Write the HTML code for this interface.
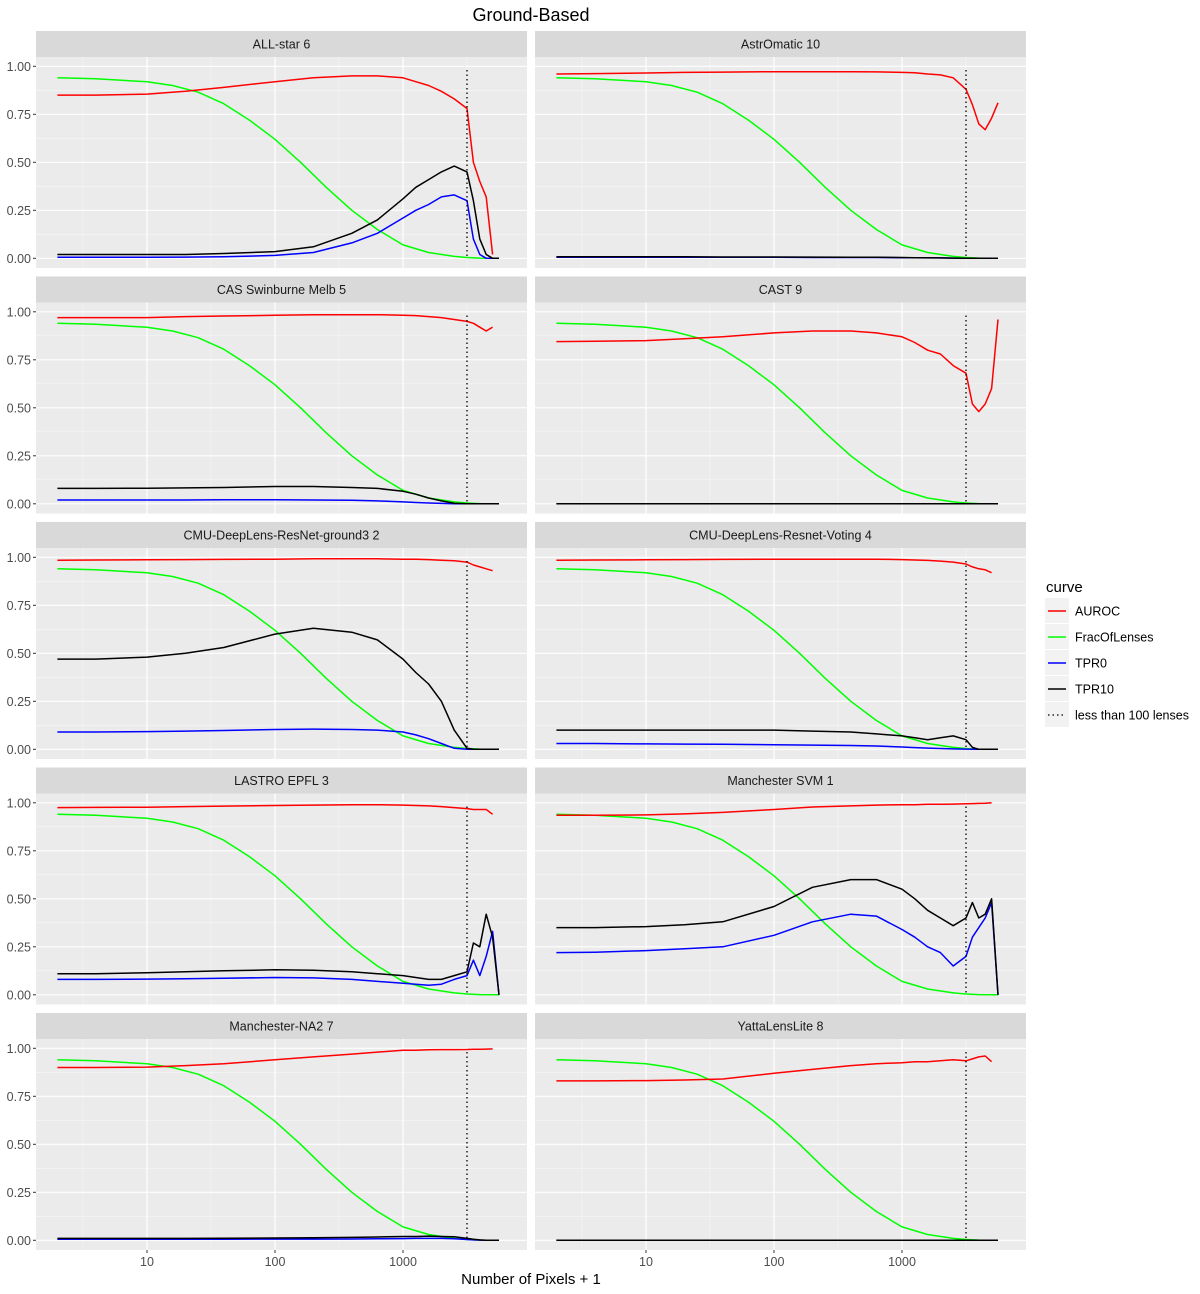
<!DOCTYPE html>
<html><head><meta charset="utf-8"><style>
body{margin:0;background:#fff;}
svg text{font-family:"Liberation Sans",Arial,sans-serif;}
</style></head><body>
<svg id="chart" width="1200" height="1289" xmlns="http://www.w3.org/2000/svg">
<text x="531" y="21" font-size="18" text-anchor="middle">Ground-Based</text>
<text x="531" y="1284" font-size="15" text-anchor="middle">Number of Pixels + 1</text>
<g>
<text x="1046" y="592" font-size="15">curve</text>
<g><rect x="1045" y="598" width="24" height="25" fill="#f2f2f2"/><line x1="1048" x2="1066" y1="611" y2="611" stroke="#f00" stroke-width="1.5"/><text x="1075" y="615.5" font-size="12.5">AUROC</text></g>
<g><rect x="1045" y="624" width="24" height="25" fill="#f2f2f2"/><line x1="1048" x2="1066" y1="637" y2="637" stroke="#0f0" stroke-width="1.5"/><text x="1075" y="641.5" font-size="12.5">FracOfLenses</text></g>
<g><rect x="1045" y="650" width="24" height="25" fill="#f2f2f2"/><line x1="1048" x2="1066" y1="663" y2="663" stroke="#00f" stroke-width="1.5"/><text x="1075" y="667.5" font-size="12.5">TPR0</text></g>
<g><rect x="1045" y="676" width="24" height="25" fill="#f2f2f2"/><line x1="1048" x2="1066" y1="689" y2="689" stroke="#000" stroke-width="1.5"/><text x="1075" y="693.5" font-size="12.5">TPR10</text></g>
<g><rect x="1045" y="702" width="24" height="25" fill="#f2f2f2"/><line x1="1048" x2="1066" y1="715" y2="715" stroke="#000" stroke-width="1.3" stroke-dasharray="1.5,3"/><text x="1075" y="719.5" font-size="12.5">less than 100 lenses</text></g>
</g>
</svg>
<script>
const panelNames=["ALL-star 6","AstrOmatic 10","CAS Swinburne Melb 5","CAST 9","CMU-DeepLens-ResNet-ground3 2","CMU-DeepLens-Resnet-Voting 4","LASTRO EPFL 3","Manchester SVM 1","Manchester-NA2 7","YattaLensLite 8"];
const xGrid=[0.3,0.6,1,1.3,1.6,2,2.3,2.6,2.8,3,3.1,3.2,3.3,3.4,3.5,3.55,3.6,3.65,3.7,3.75];
const fracX=[0.3,0.6,1,1.2,1.4,1.6,1.8,2,2.2,2.4,2.6,2.8,3,3.2,3.4,3.5,3.6,3.75];
const fracLenses=[0.94,0.935,0.92,0.9,0.865,0.805,0.72,0.62,0.5,0.37,0.25,0.15,0.07,0.03,0.01,0.004,0.001,0];
const cutoffLog=3.5;
const auroc=[
[0.85,0.85,0.855,0.87,0.89,0.92,0.94,0.95,0.95,0.94,0.92,0.9,0.87,0.83,0.78,0.5,0.4,0.32,0.02,null],
[0.96,0.962,0.965,0.968,0.97,0.972,0.972,0.972,0.971,0.968,0.966,0.96,0.955,0.94,0.88,0.8,0.7,0.67,0.73,0.81],
[0.97,0.97,0.97,0.975,0.978,0.982,0.985,0.985,0.985,0.982,0.98,0.975,0.97,0.96,0.95,0.94,0.92,0.9,0.92,null],
[0.845,0.847,0.85,0.86,0.87,0.89,0.9,0.9,0.89,0.87,0.84,0.8,0.78,0.72,0.68,0.52,0.48,0.52,0.6,0.96],
[0.985,0.986,0.987,0.988,0.989,0.99,0.992,0.992,0.992,0.99,0.99,0.988,0.985,0.982,0.975,0.96,0.95,0.94,0.93,null],
[0.985,0.986,0.987,0.988,0.989,0.99,0.99,0.99,0.99,0.988,0.986,0.984,0.98,0.975,0.965,0.95,0.94,0.935,0.92,null],
[0.975,0.976,0.977,0.98,0.983,0.986,0.988,0.99,0.99,0.988,0.986,0.984,0.98,0.975,0.97,0.965,0.965,0.965,0.94,null],
[0.935,0.935,0.937,0.942,0.95,0.965,0.978,0.984,0.988,0.99,0.99,0.992,0.992,0.993,0.995,0.996,0.997,0.998,1.0,null],
[0.9,0.9,0.902,0.91,0.92,0.94,0.955,0.97,0.98,0.99,0.99,0.992,0.993,0.993,0.994,0.995,0.995,0.996,0.997,null],
[0.83,0.83,0.832,0.835,0.84,0.87,0.89,0.91,0.92,0.925,0.93,0.93,0.935,0.94,0.935,0.945,0.955,0.96,0.93,null]];
const tpr0=[
[0.005,0.005,0.005,0.006,0.008,0.015,0.03,0.08,0.13,0.21,0.25,0.28,0.32,0.33,0.3,0.1,0.02,0,0,0],
[0.005,0.005,0.005,0.005,0.005,0.005,0.004,0.004,0.004,0.003,0.003,0.002,0.002,0.001,0,0,0,0,0,0],
[0.02,0.02,0.02,0.02,0.021,0.021,0.02,0.018,0.015,0.01,0.007,0.004,0.002,0,0,0,0,0,0,0],
[0,0,0,0,0,0,0,0,0,0,0,0,0,0,0,0,0,0,0,0],
[0.09,0.09,0.092,0.095,0.098,0.103,0.105,0.103,0.1,0.09,0.075,0.055,0.03,0.005,0,0,0,0,0,0],
[0.03,0.03,0.028,0.027,0.026,0.024,0.022,0.02,0.017,0.012,0.009,0.006,0.004,0.002,0.001,0,0,0,0,0],
[0.08,0.08,0.082,0.084,0.086,0.09,0.088,0.08,0.07,0.06,0.055,0.05,0.055,0.08,0.1,0.18,0.1,0.2,0.33,0],
[0.22,0.222,0.23,0.24,0.25,0.31,0.38,0.42,0.41,0.34,0.3,0.25,0.22,0.15,0.2,0.3,0.35,0.4,0.48,0],
[0.005,0.005,0.005,0.005,0.005,0.006,0.006,0.007,0.008,0.009,0.01,0.01,0.01,0.008,0.004,0.002,0.001,0,0,0],
[0,0,0,0,0,0,0,0,0,0,0,0,0,0,0,0,0,0,0,0]];
const tpr10=[
[0.02,0.02,0.02,0.02,0.025,0.035,0.06,0.13,0.2,0.31,0.37,0.41,0.45,0.48,0.45,0.3,0.1,0.02,0,0],
[0.008,0.008,0.008,0.008,0.007,0.007,0.006,0.005,0.005,0.004,0.003,0.003,0.002,0.001,0,0,0,0,0,0],
[0.08,0.08,0.081,0.083,0.085,0.09,0.09,0.085,0.08,0.065,0.05,0.03,0.015,0.003,0,0,0,0,0,0],
[0,0,0,0,0,0,0,0,0,0,0,0,0,0,0,0,0,0,0,0],
[0.47,0.47,0.48,0.5,0.53,0.6,0.63,0.61,0.57,0.47,0.4,0.34,0.25,0.1,0.005,0,0,0,0,0],
[0.1,0.1,0.1,0.1,0.1,0.1,0.095,0.09,0.08,0.07,0.06,0.05,0.06,0.07,0.05,0.01,0,0,0,0],
[0.11,0.11,0.115,0.12,0.125,0.13,0.128,0.12,0.11,0.1,0.09,0.08,0.08,0.1,0.12,0.27,0.25,0.42,0.3,0],
[0.35,0.35,0.355,0.365,0.38,0.46,0.56,0.6,0.6,0.55,0.5,0.44,0.4,0.36,0.4,0.48,0.4,0.42,0.5,0],
[0.01,0.01,0.01,0.01,0.011,0.012,0.013,0.015,0.017,0.02,0.02,0.022,0.02,0.018,0.01,0.005,0.002,0,0,0],
[0,0,0,0,0,0,0,0,0,0,0,0,0,0,0,0,0,0,0,0]];

const NS="http://www.w3.org/2000/svg";
const svg=document.getElementById('chart');
const colX=[36,535],panelW=491,rowTop0=31,rowStep=245.5,stripH=26,plotH=211;
function mk(tag,attrs,parent){const e=document.createElementNS(NS,tag);for(const k in attrs)e.setAttribute(k,attrs[k]);parent.appendChild(e);return e;}
function xScale(ox,lx){return ox+111+(lx-1)*128;}
function yScale(oy,v){return oy+9.3+(1-v)*192;}
panelNames.forEach((name,i)=>{
  const col=i%2,row=Math.floor(i/2);
  const ox=colX[col],top=rowTop0+row*rowStep,oy=top+stripH;
  const g=mk('g',{},svg);
  
  
  const strip=mk('rect',{x:ox,y:top,width:panelW,height:stripH,fill:'#d9d9d9'},g);
  
  
  const st=mk('text',{x:ox+panelW/2,y:top+17.5,'font-size':12.5,'text-anchor':'middle',fill:'#1a1a1a'},g);
  st.textContent=name;
  
  
  const bg=mk('rect',{x:ox,y:oy,width:panelW,height:plotH,fill:'#ebebeb'},g);
  
  
  [0.125,0.375,0.625,0.875].forEach(v=>mk('line',{x1:ox,x2:ox+panelW,y1:yScale(oy,v),y2:yScale(oy,v),stroke:'#f7f7f7','stroke-width':0.6},g));
  [0.5,1.5,2.5,3.5].forEach(v=>mk('line',{x1:xScale(ox,v),x2:xScale(ox,v),y1:oy,y2:oy+plotH,stroke:'#f7f7f7','stroke-width':0.6},g));
  [0,0.25,0.5,0.75,1].forEach(v=>mk('line',{x1:ox,x2:ox+panelW,y1:yScale(oy,v),y2:yScale(oy,v),stroke:'#fff','stroke-width':1.2},g));
  [1,2,3].forEach(v=>mk('line',{x1:xScale(ox,v),x2:xScale(ox,v),y1:oy,y2:oy+plotH,stroke:'#fff','stroke-width':1.2},g));
  if(col===0){
    [0,0.25,0.5,0.75,1].forEach(v=>{
      mk('line',{x1:ox-3,x2:ox,y1:yScale(oy,v),y2:yScale(oy,v),stroke:'#333'},g);
      const t=mk('text',{x:ox-5,y:yScale(oy,v)+4.5,'font-size':12.5,'text-anchor':'end',fill:'#4d4d4d'},g);
      t.textContent=v.toFixed(2);
      
      
    });
  }
  if(row===4){
    [1,2,3].forEach(v=>{
      mk('line',{x1:xScale(ox,v),x2:xScale(ox,v),y1:oy+plotH,y2:oy+plotH+3,stroke:'#333'},g);
      const t=mk('text',{x:xScale(ox,v),y:oy+plotH+16,'font-size':12.5,'text-anchor':'middle',fill:'#4d4d4d'},g);
      t.textContent=String(Math.pow(10,v));
      
      
    });
  }
  const series=[[fracX,fracLenses,'#00ff00','fraclenses'],[xGrid,auroc[i],'#ff0000','auroc'],[xGrid,tpr0[i],'#0000ff','tpr0'],[xGrid,tpr10[i],'#000000','tpr10']];
  series.forEach(([xs,vals,color,nm])=>{
    let d='';let pen=false;
    vals.forEach((v,j)=>{if(v===null){pen=false;return;}d+=(pen?'L':'M')+xScale(ox,xs[j]).toFixed(1)+','+yScale(oy,v).toFixed(1);pen=true;});
    const p=mk('path',{d:d,fill:'none',stroke:color,'stroke-width':1.5,'stroke-linejoin':'round'},g);
    
    
  });
  const cx=xScale(ox,cutoffLog);
  const cl=mk('line',{x1:cx,x2:cx,y1:oy+13,y2:yScale(oy,0),stroke:'#000','stroke-width':1.3,'stroke-dasharray':'1.5,3'},g);
  
  
});
</script>
</body></html>
